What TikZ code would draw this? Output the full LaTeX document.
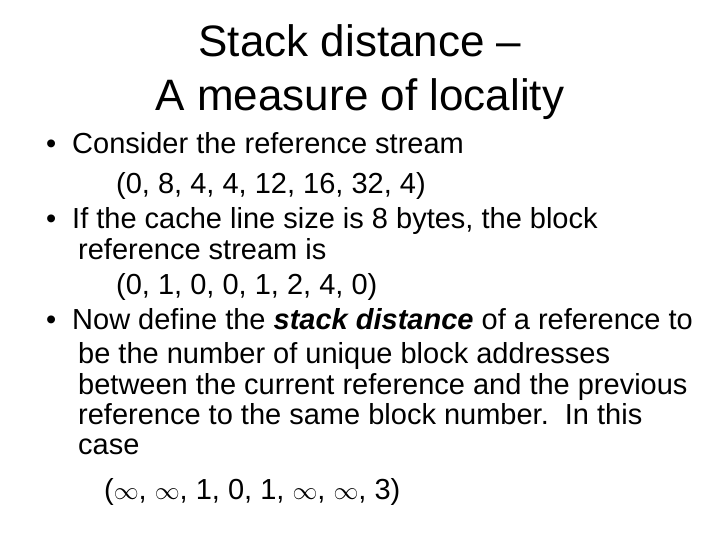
\documentclass[tikz,border=0pt]{standalone}
\usepackage{fontspec}
\setmainfont{Liberation Sans}
\begin{document}
\begin{tikzpicture}[x=1pt,y=-1pt,
  title/.style={anchor=base,inner sep=0pt,font=\fontsize{44}{48}\selectfont},
  body/.style={anchor=base west,inner sep=0pt,font=\fontsize{29}{32}\selectfont},
  bul/.style={anchor=base west,inner sep=0pt,font=\fontsize{29}{32}\selectfont}]
\useasboundingbox (0,0) rectangle (720,540);
\node[title] (t1) at (360,57) {Stack distance --};
\node[title] (t2) at (360,111) {A measure of locality};
\node[bul] (b1) at (46,154) {\textbullet};
\node[body] (l1) at (72,154) {Consider the reference stream};
\node[body] (l2) at (116,194) {(0, 8, 4, 4, 12, 16, 32, 4)};
\node[bul] (b2) at (46,229) {\textbullet};
\node[body] (l3) at (72,229) {If the cache line size is 8 bytes, the block};
\node[body] (l4) at (78,259) {reference stream is};
\node[body] (l5) at (116,294) {(0, 1, 0, 0, 1, 2, 4, 0)};
\node[bul] (b3) at (46,329) {\textbullet};
\node[body] (l6) at (72,329) {Now define the \textbf{\textit{stack distance}} of a reference to};
\node[body] (l7) at (78,363) {be the number of unique block addresses};
\node[body] (l8) at (78,394) {between the current reference and the previous};
\node[body] (l9) at (78,424) {reference to the same block number.\ \ In this};
\node[body] (l10) at (78,454) {case};
\node[body] (l11) at (104,499) {($\infty$, $\infty$, 1, 0, 1, $\infty$, $\infty$, 3)};
\end{tikzpicture}
\end{document}
